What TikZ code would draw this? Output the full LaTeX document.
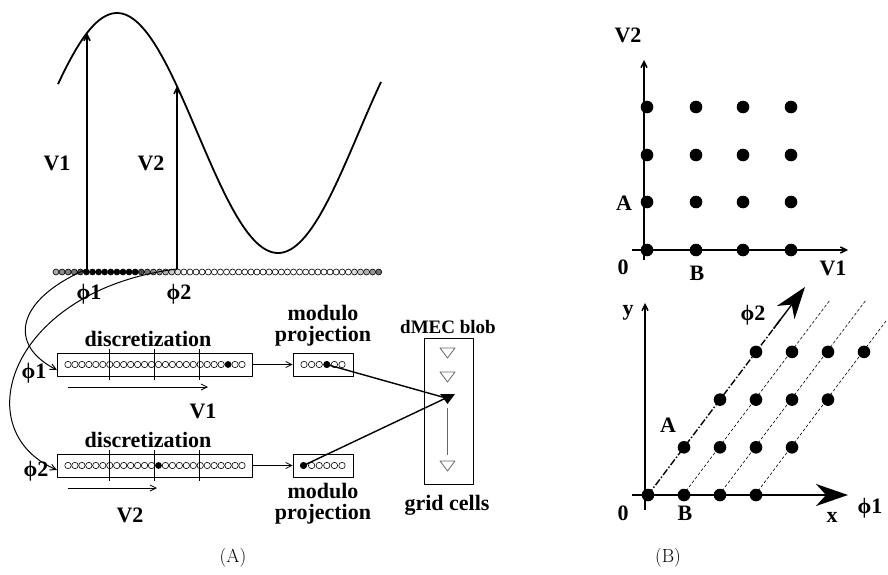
\documentclass[tikz,border=0pt]{standalone}
\usepackage{fontspec}
\newfontfamily\tnr{Liberation Serif}
\usetikzlibrary{arrows.meta,calc}
\tikzset{
  lbl/.style={font=\tnr\bfseries\fontsize{22}{21}\selectfont, inner sep=0pt},
  capt/.style={font=\fontsize{19}{19}\selectfont, inner sep=0pt},
  barb/.style={-{Straight Barb[length=6pt,width=6pt]}},
  bigtip/.style={-{Stealth[length=32pt,width=22pt,inset=10pt]}},
  boxstyle/.style={draw, line width=0.9pt, inner sep=0pt},
  tri/.style={draw=black!60, line width=0.8pt, fill=white},
}
\begin{document}
\begin{tikzpicture}[x=1pt,y=-1pt,line join=round]
\useasboundingbox (0,0) rectangle (888,575);
% ---------- wave ----------
\draw[line width=1.8pt] plot[domain=58:381,samples=120,smooth] (\x,{133-120*cos((\x-117)/322*360)});
\coordinate (w1) at (87,33);
\coordinate (w2) at (177,86);
\coordinate (p1) at (87,269);
\coordinate (p2) at (177,269);
\draw[barb,line width=1.6pt] (p1) -- (w1);
\draw[barb,line width=1.6pt] (p2) -- (w2);
\node[lbl] (lv1) at (57,163) {V1};
\node[lbl] (lv2) at (151,163) {V2};
% ---------- dot row ----------
\foreach \c [count=\i from 0] in {35,45,50,55,70,100,100,100,100,100,100,100,100,100,70,55,45,40,30,20,12,0,0,0,0,0,0,0,0,0,0,0,0,0,0,0,0,0,0,0,0,0,0,0,0,0,0,0,0,15,20,30,40,55}
  \draw[line width=0.6pt, fill=black!\c] ({56+6.09*\i},272) circle (3);
\node[lbl] (lphi1) at (89,294) {ϕ1};
\node[lbl] (lphi2) at (179,294) {ϕ2};
% ---------- discretization boxes ----------
\node[boxstyle, minimum width=195pt, minimum height=23pt] (box1) at (154.5,364.5) {};
\node[boxstyle, minimum width=195pt, minimum height=23pt] (box2) at (154.5,465.5) {};
\foreach \b/\yy/\f in {1/364.5/23, 2/465.5/13}{
  \foreach \k in {0,...,25}{
    \ifnum\k=\f
      \fill ({68+6.96*\k},\yy) circle (3.4);
    \else
      \draw[line width=0.6pt] ({68+6.96*\k},\yy) circle (3.2);
    \fi
  }
  \foreach \xx in {109,154,199}
    \draw[line width=0.8pt] (\xx,\yy-15.5) -- (\xx,\yy+15.5);
}
\node[lbl] (ld1) at (148,339) {discretization};
\node[lbl] (ld2) at (148,440) {discretization};
\coordinate (a1s) at (68,387);
\coordinate (a1e) at (208,387);
\coordinate (a2s) at (68,488);
\coordinate (a2e) at (157,488);
\draw[barb,line width=0.8pt] (a1s) -- (a1e);
\draw[barb,line width=0.8pt] (a2s) -- (a2e);
\node[lbl] (lv1b) at (203,411) {V1};
\node[lbl] (lv2b) at (130,515) {V2};
% curves
\coordinate (b1in) at (57,370);
\coordinate (b2in) at (57,470);
\draw[barb,line width=1pt] (p1) .. controls (15,300) and (8,345) .. (b1in);
\draw[barb,line width=1pt] (p2) .. controls (10,290) and (-35,430) .. (b2in);
\node[lbl] (lphi1b) at (34,373) {ϕ1};
\node[lbl] (lphi2b) at (36,471) {ϕ2};
% ---------- modulo boxes ----------
\node[boxstyle, minimum width=60pt, minimum height=23pt] (mod1) at (323,364.5) {};
\node[boxstyle, minimum width=60pt, minimum height=23pt] (mod2) at (323,465.5) {};
\draw[barb,line width=0.8pt] (box1.east) -- (mod1.west);
\draw[barb,line width=0.8pt] (box2.east) -- (mod2.west);
\foreach \k in {0,...,5}{
  \ifnum\k=3 \else \draw[line width=0.6pt] ({304+7.6*\k},364.5) circle (3.2); \fi
  \ifnum\k=0 \else \draw[line width=0.6pt] ({304+7.6*\k},465.5) circle (3.2); \fi
}
\coordinate (m1) at (326.8,364.5);
\coordinate (m2) at (303.5,465.5);
\fill (m1) circle (3.6);
\fill (m2) circle (3.6);
\node[lbl, align=center] (lm1) at (323,326) {modulo\\projection};
\node[lbl, align=center] (lm2) at (323,504) {modulo\\projection};
% ---------- dMEC ----------
\node[boxstyle, minimum width=49pt, minimum height=146pt] (dmec) at (448.5,411) {};
\foreach \yy in {353,377,466}
  \draw[tri] (440,\yy-5) -- (455,\yy-5) -- (447.5,\yy+5) -- cycle;
\fill (440,394) -- (455,394) -- (447.5,404) -- cycle;
\coordinate (tr) at (446,398);
\draw[black!60,line width=0.6pt] (447.5,408) -- (447.5,455);
\draw[line width=1.4pt] (m1) -- (tr);
\draw[line width=1.4pt] (m2) -- (tr);
\node[lbl, font=\tnr\bfseries\fontsize{19}{19}\selectfont] (ldm) at (448,327) {dMEC blob};
\node[lbl] (lgc) at (447,505) {grid cells};
% ---------- panel B top ----------
\coordinate (o1) at (644,260);
\coordinate (t1) at (644,60);
\coordinate (h1) at (632,250);
\coordinate (h1e) at (848,250);
\draw[barb,line width=1.5pt] (o1) -- (t1);
\draw[barb,line width=1.5pt] (h1) -- (h1e);
\foreach \xx in {647,696,743,791}
  \foreach \yy in {107,155,202,250}
    \fill (\xx,\yy) circle (6.3);
\node[lbl] (tv2) at (628,35) {V2};
\node[lbl] (ta) at (624,203) {A};
\node[lbl] (t0) at (623,267) {0};
\node[lbl] (tb) at (697,273) {B};
\node[lbl] (tv1) at (833,268) {V1};
% ---------- panel B bottom ----------
\coordinate (o2) at (645,510);
\coordinate (t2) at (645,303);
\coordinate (h2) at (632,495);
\coordinate (h2e) at (848,495);
\coordinate (org) at (648,495);
\coordinate (ph2) at (805,287);
\draw[line width=0.6pt, dash pattern=on 3pt off 2pt] (683,495) -- (830,300);
\draw[line width=0.6pt, dash pattern=on 3pt off 2pt] (719,495) -- (866,300);
\draw[line width=0.6pt, dash pattern=on 3pt off 2pt] (755,495) -- (886,321);
\draw[line width=1.4pt, dash pattern=on 7pt off 2pt on 1.5pt off 2pt] (org) -- ($(org)!0.85!(ph2)$);
\draw[bigtip,line width=1.4pt] ($(org)!0.8!(ph2)$) -- (ph2);
\draw[barb,line width=1.5pt] (o2) -- (t2);
\draw[bigtip,line width=1.5pt] (h2) -- (h2e);
\foreach \k in {0,...,3}
  \foreach \j in {0,...,3}
    \fill ({648+36*\k+36*\j},{495-47.7*\k}) circle (6.3);
\node[lbl] (by) at (628,313) {y};
\node[lbl] (bphi2) at (753,315) {ϕ2};
\node[lbl] (ba) at (668,425) {A};
\node[lbl] (b0) at (623,513) {0};
\node[lbl] (bb) at (685,513) {B};
\node[lbl] (bx) at (832,517) {x};
\node[lbl] (bphi1) at (870,508) {ϕ1};
% captions
\node[capt] (capA) at (233,558) {(A)};
\node[capt] (capB) at (668,558) {(B)};
\end{tikzpicture}
\end{document}
